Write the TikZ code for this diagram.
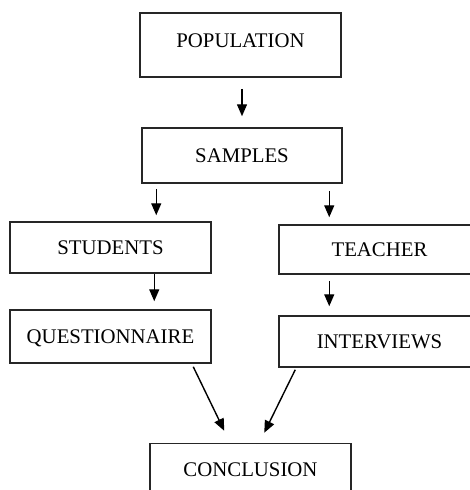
\documentclass[tikz,border=0pt]{standalone}
\usepackage{fontspec}
\setmainfont{Liberation Serif}
\usetikzlibrary{arrows.meta,calc}
\begin{document}
\begin{tikzpicture}[x=1pt,y=-1pt,
  boxnode/.style={draw=black!85,line width=1.5pt,inner sep=0pt,minimum width=201pt,
    text height=13.8pt,text depth=0pt,font=\fontsize{20.8}{24}\selectfont},
  arr/.style={draw=black,line width=1.4pt,-{Triangle[length=12pt,width=10pt]}}]
\useasboundingbox (0,0) rectangle (470,490);
\clip (0,0) rectangle (470,490);
\node[boxnode,minimum height=64pt] (pop) at (240.5,45) {\raisebox{4pt}{POPULATION}};
\node[boxnode,minimum width=200pt,minimum height=55pt] (samp) at (242,155.5) {SAMPLES};
\node[boxnode,minimum height=51pt] (stud) at (110.5,247.5) {STUDENTS};
\node[boxnode,minimum height=49pt] (teach) at (379.5,249.5) {TEACHER};
\node[boxnode,minimum height=53pt] (quest) at (110.5,336.5) {QUESTIONNAIRE};
\node[boxnode,minimum height=51pt] (interv) at (379.5,341.5) {INTERVIEWS};
\node[boxnode,minimum height=53pt] (concl) at (250.5,470) {CONCLUSION};
% arrows
\draw[arr,shorten <=11pt,shorten >=11pt] (pop.south -| samp.north) -- (samp.north);
\draw[arr,shorten <=5pt,shorten >=6pt] ([xshift=15pt]samp.south west) -- ([xshift=15pt]samp.south west |- stud.north);
\draw[arr,shorten <=7pt,shorten >=7pt] ([xshift=51pt]teach.north west |- samp.south) -- ([xshift=51pt]teach.north west);
\draw[arr,shorten >=8pt] ([xshift=145pt]stud.south west) -- ([xshift=145pt]stud.south west |- quest.north);
\draw[arr,shorten <=6pt,shorten >=9pt] ([xshift=51pt]teach.south west) -- ([xshift=51pt]teach.south west |- interv.north);
\draw[arr] ([xshift=184pt,yshift=-3pt]quest.south west) -- ([xshift=75pt,yshift=12pt]concl.north west);
\draw[arr] ([xshift=17pt,yshift=-2pt]interv.south west) -- ([xshift=115pt,yshift=10pt]concl.north west);
\end{tikzpicture}
\end{document}
